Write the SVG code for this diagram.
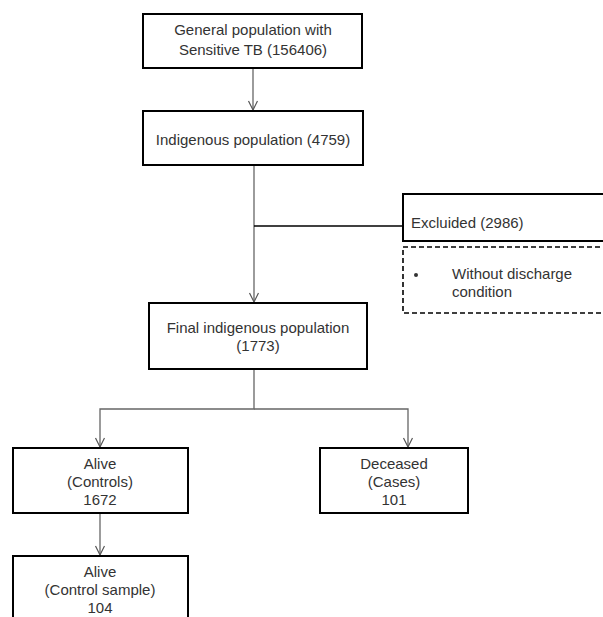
<svg xmlns="http://www.w3.org/2000/svg" width="603" height="617" viewBox="0 0 603 617">
<style>
.box{fill:#fff;stroke:#000;stroke-width:2}
.dash{fill:#fff;stroke:#000;stroke-width:1.6;stroke-dasharray:5,3}
.t{font-family:"Liberation Sans",Arial,sans-serif;font-size:15px;fill:#333}
.c{text-anchor:middle}
.con{fill:none;stroke:#666;stroke-width:1.3}
.conb{fill:none;stroke:#000;stroke-width:1.5}
</style>
<defs>
<marker id="arr" markerWidth="12" markerHeight="12" refX="10" refY="5" orient="auto" markerUnits="userSpaceOnUse">
<path d="M1,0.5 L10,5 L1,9.5" fill="none" stroke="#555" stroke-width="1.2"/>
</marker>
</defs>
<rect width="603" height="617" fill="#fff"/>
<g id="connectors">
<line class="con" x1="253" y1="69" x2="253" y2="110" marker-end="url(#arr)"/>
<line class="con" x1="254" y1="166" x2="254" y2="302" marker-end="url(#arr)"/>
<line class="conb" x1="254" y1="226" x2="403" y2="226"/>
<polyline class="con" points="254,370 254,409 100,409 100,447" marker-end="url(#arr)"/>
<polyline class="con" points="254,409 408,409 408,447" marker-end="url(#arr)"/>
<line class="con" x1="100" y1="514" x2="100" y2="555" marker-end="url(#arr)"/>
</g>
<g id="n1">
<rect class="box" x="143" y="14" width="219" height="54"/>
<text class="t c" x="253" y="35">General population with</text>
<text class="t c" x="253" y="55">Sensitive TB (156406)</text>
</g>
<g id="n2">
<rect class="box" x="143" y="111" width="220" height="54"/>
<text class="t c" x="253" y="145">Indigenous population (4759)</text>
</g>
<g id="n3">
<rect class="box" x="403" y="194" width="202" height="47"/>
<text class="t" x="411" y="228">Excluided (2986)</text>
</g>
<g id="n4">
<rect class="dash" x="403" y="247" width="202" height="66"/>
<circle cx="416" cy="275" r="2" fill="#333"/>
<text class="t" x="452" y="279">Without discharge</text>
<text class="t" x="452" y="297">condition</text>
</g>
<g id="n5">
<rect class="box" x="149" y="303" width="218" height="66"/>
<text class="t c" x="258" y="333">Final indigenous population</text>
<text class="t c" x="258" y="351">(1773)</text>
</g>
<g id="n6">
<rect class="box" x="13" y="448" width="175" height="65"/>
<text class="t c" x="100" y="469">Alive</text>
<text class="t c" x="100" y="487">(Controls)</text>
<text class="t c" x="100" y="505">1672</text>
</g>
<g id="n7">
<rect class="box" x="320" y="448" width="148" height="65"/>
<text class="t c" x="394" y="469">Deceased</text>
<text class="t c" x="394" y="487">(Cases)</text>
<text class="t c" x="394" y="505">101</text>
</g>
<g id="n8">
<rect class="box" x="13" y="556" width="175" height="70"/>
<text class="t c" x="100" y="577">Alive</text>
<text class="t c" x="100" y="595">(Control sample)</text>
<text class="t c" x="100" y="613">104</text>
</g>
</svg>
